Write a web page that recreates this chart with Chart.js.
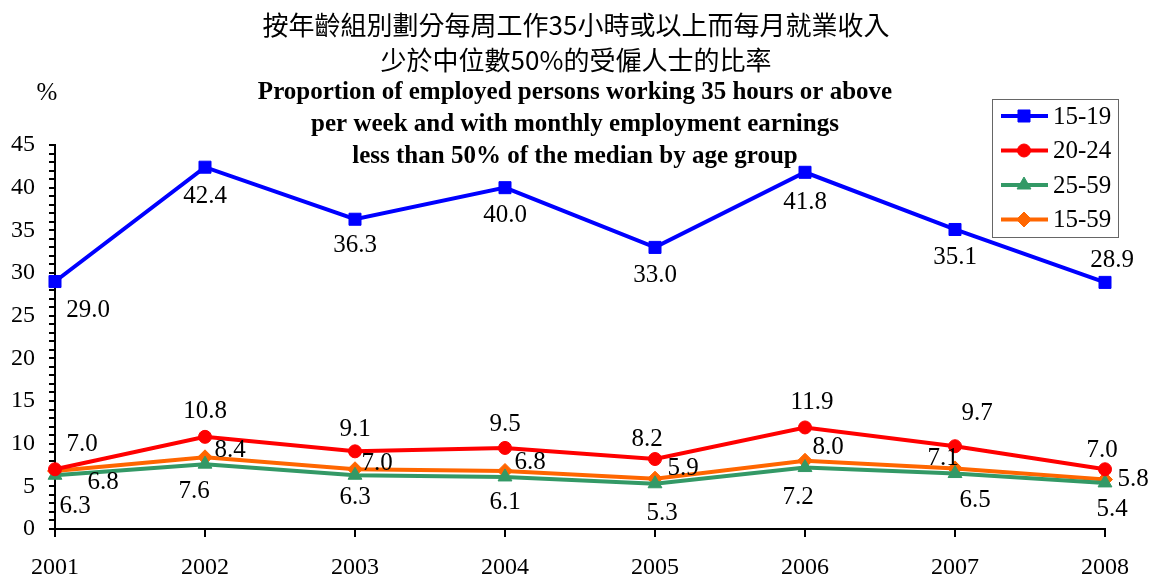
<!DOCTYPE html>
<html>
<head>
<meta charset="utf-8">
<script src="https://cdn.jsdelivr.net/npm/chart.js@4.4.0/dist/chart.umd.min.js"></script>
<style>
  html, body { margin: 0; padding: 0; background: #fff; }
  #wrap { width: 1154px; height: 576px; position: relative; }
</style>
</head>
<body>
<div id="wrap"><canvas id="chart" width="1154" height="576"></canvas></div>
<script>
// ── Data ──────────────────────────────────────────────
const years      = ['2001', '2002', '2003', '2004', '2005', '2006', '2007', '2008'];
const seriesNames = ['15-19', '20-24', '25-59', '15-59'];
const age15to19  = [29.0, 42.4, 36.3, 40.0, 33.0, 41.8, 35.1, 28.9];
const age20to24  = [7.0, 10.8, 9.1, 9.5, 8.2, 11.9, 9.7, 7.0];
const age25to59  = [6.3, 7.6, 6.3, 6.1, 5.3, 7.2, 6.5, 5.4];
const age15to59  = [6.8, 8.4, 7.0, 6.8, 5.9, 8.0, 7.1, 5.8];
const yTicks     = [0, 5, 10, 15, 20, 25, 30, 35, 40, 45];

const titleZh = ['按年齡組別劃分每周工作35小時或以上而每月就業收入', '少於中位數50%的受僱人士的比率'];
const titleEn = ['Proportion of employed persons working 35 hours or above',
                 'per week and with monthly employment earnings',
                 'less than 50% of the median by age group'];

// label offsets (px) from each point, per series
const labelOffsets = [
  [[33, 29], [0, 29], [0, 26], [0, 28], [0, 28], [0, 30], [0, 28], [7, -22]],
  [[27, -25], [0, -25], [0, -22], [0, -23], [-8, -20], [7, -25], [22, -33], [-3, -19]],
  [[20, 31], [-11, 27], [0, 22], [0, 25], [7, 30], [-7, 30], [20, 27], [7, 27]],
  [[48, 11], [25, -7], [22, -6], [25, -9], [28, -10], [23, -13], [-12, -10], [28, 0]],
];

const SERIF = '"Liberation Serif", "Times New Roman", serif';

// ── Plugins ───────────────────────────────────────────
const textPlugin = {
  id: 'texts',
  afterDraw(chart) {
    const ctx = chart.ctx;
    ctx.save();
    ctx.fillStyle = '#000';
    ctx.textAlign = 'center';
    ctx.textBaseline = 'middle';

    ctx.font = '26px "Noto Sans CJK TC", sans-serif';
    titleZh.forEach((t, i) => ctx.fillText(t, 576, 25 + i * 35));
    ctx.font = 'bold 25px ' + SERIF;
    titleEn.forEach((t, i) => ctx.fillText(t, 575, 93 + i * 32));

    ctx.font = '25px ' + SERIF;
    ctx.fillText('%', 47, 93);

    // point labels
    chart.data.datasets.forEach((ds, di) => {
      const meta = chart.getDatasetMeta(di);
      meta.data.forEach((pt, i) => {
        const off = labelOffsets[di][i];
        ctx.fillText(ds.data[i].toFixed(1), pt.x + off[0], pt.y + off[1]);
      });
    });

    // legend
    const bx = 992, by = 99, bw = 126, bh = 138;
    ctx.strokeStyle = '#666';
    ctx.lineWidth = 1;
    ctx.strokeRect(bx + 0.5, by + 0.5, bw, bh);
    chart.data.datasets.forEach((ds, di) => {
      const y = 116 + di * 34.5;
      ctx.strokeStyle = ds.borderColor;
      ctx.lineWidth = 4;
      ctx.beginPath();
      ctx.moveTo(1001, y);
      ctx.lineTo(1048, y);
      ctx.stroke();
      ctx.fillStyle = ds.borderColor;
      ctx.lineWidth = 1;
      Chart.helpers.drawPoint(ctx, {
        pointStyle: ds.pointStyle, radius: ds.pointRadius, borderWidth: 1, rotation: 0
      }, 1024, y);
      ctx.fillStyle = '#000';
      ctx.textAlign = 'left';
      ctx.font = '25px ' + SERIF;
      ctx.fillText(ds.label, 1053, y + 1);
    });
    ctx.restore();
  }
};

// ── Chart ─────────────────────────────────────────────
const colors = ['#0000ff', '#ff0000', '#339966', '#ff6600'];
const styles = ['rect', 'circle', 'triangle', 'rectRot'];
const radii  = [8.5, 6.5, 8, 7.5];
const series = [age15to19, age20to24, age25to59, age15to59];

new Chart(document.getElementById('chart'), {
  type: 'line',
  data: {
    labels: years,
    datasets: series.map((d, i) => ({
      label: seriesNames[i],
      data: d,
      borderColor: colors[i],
      backgroundColor: colors[i],
      borderWidth: 4,
      pointStyle: styles[i],
      pointRadius: radii[i],
      pointBorderWidth: 1,
      tension: 0,
    })),
  },
  options: {
    responsive: false,
    animation: false,
    devicePixelRatio: 1,
    layout: { padding: { top: 145, right: 49, left: 0, bottom: 0 } },
    plugins: { legend: { display: false }, title: { display: false }, tooltip: { enabled: false } },
    scales: {
      x: {
        offset: false,
        grid: { drawOnChartArea: false, drawTicks: true, tickLength: 8, color: '#000', lineWidth: 2 },
        border: { display: true, color: '#000', width: 2 },
        ticks: { color: '#000', font: { family: SERIF, size: 24 }, padding: 16, maxRotation: 0 },
        afterFit: s => { s.height = 47; },
      },
      y: {
        min: 0, max: 45,
        grid: { drawOnChartArea: false, drawTicks: true, tickLength: 6, color: '#000', lineWidth: 2 },
        border: { display: true, color: '#000', width: 2 },
        ticks: {
          stepSize: 1, autoSkip: false, color: '#000', padding: 14,
          font: { family: SERIF, size: 24 },
          callback: v => yTicks.includes(v) ? String(v) : '',
        },
        afterFit: s => { s.width = 55; },
      },
    },
  },
  plugins: [textPlugin],
});
</script>
</body>
</html>
